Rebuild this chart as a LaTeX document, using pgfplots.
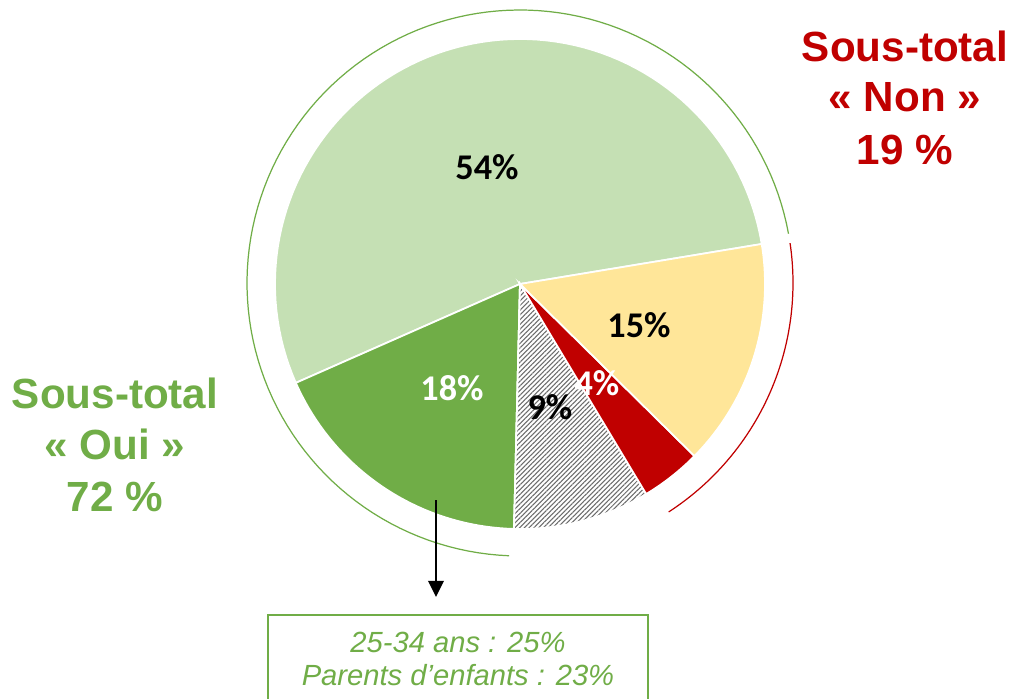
\documentclass[border=0pt]{standalone}
\usepackage{pgfplots}
\pgfplotsset{compat=1.18}
\usetikzlibrary{patterns.meta,arrows.meta}
\usepackage{fontspec}
\setmainfont{Liberation Sans}
\newfontfamily\calib{Carlito}
\definecolor{lgreen}{HTML}{C5E0B4}
\definecolor{dgreen}{HTML}{70AD47}
\definecolor{dred}{HTML}{C00000}
\definecolor{lyellow}{HTML}{FFE699}
% shares (percent), counter-clockwise from the start angle
\def\vA{54}\def\vB{18}\def\vC{9}\def\vD{4}\def\vE{15}
\def\cx{520}\def\cy{414}\def\R{245}\def\Ro{273}
\pgfmathsetmacro\aA{9.4}
\pgfmathsetmacro\aB{\aA+3.6*\vA}
\pgfmathsetmacro\aC{\aB+3.6*\vB}
\pgfmathsetmacro\aD{\aC+3.6*\vC}
\pgfmathsetmacro\aE{\aD+3.6*\vD}
\pgfmathsetmacro\aF{\aE+3.6*\vE}
\begin{document}
\begin{tikzpicture}
\begin{axis}[width=101.3mm,height=69.8mm,scale only axis,hide axis,
  xmin=0,xmax=1013,ymin=0,ymax=698,clip=true]
\addplot[draw=none,forget plot] coordinates {(0,0) (1013,698)};
% slices
\addplot[fill=lgreen,draw=white,line width=0.5pt,domain=\aA:\aB,samples=90]
  ({\cx+\R*cos(x)},{\cy+\R*sin(x)}) -- (\cx,\cy) -- cycle;
\addplot[fill=dgreen,draw=white,line width=0.5pt,domain=\aB:\aC,samples=40]
  ({\cx+\R*cos(x)},{\cy+\R*sin(x)}) -- (\cx,\cy) -- cycle;
\addplot[preaction={fill=white},pattern={Lines[angle=45,distance=0.95pt,line width=0.3pt]},pattern color=black!58,draw=white,line width=0.5pt,domain=\aC:\aD,samples=30]
  ({\cx+\R*cos(x)},{\cy+\R*sin(x)}) -- (\cx,\cy) -- cycle;
\addplot[fill=dred,draw=white,line width=0.5pt,domain=\aD:\aE,samples=20]
  ({\cx+\R*cos(x)},{\cy+\R*sin(x)}) -- (\cx,\cy) -- cycle;
\addplot[fill=lyellow,draw=white,line width=0.5pt,domain=\aE:\aF,samples=40]
  ({\cx+\R*cos(x)},{\cy+\R*sin(x)}) -- (\cx,\cy) -- cycle;
% subtotal arcs
\addplot[dgreen,line width=0.35pt,domain=10.4:267.7,samples=120]
  ({\cx+\Ro*cos(x)},{\cy+1+\Ro*sin(x)});
\addplot[dred,line width=0.35pt,domain=303:368.4,samples=60]
  ({\cx+\Ro*cos(x)},{\cy+1+\Ro*sin(x)});
% labels in slices
\node[font=\calib\bfseries\fontsize{10.3}{12}\selectfont] at (487,531) {54\%};
\node[font=\calib\bfseries\fontsize{10.3}{12}\selectfont,text=white] at (452,310) {18\%};
\node[font=\calib\bfseries\fontsize{10.3}{12}\selectfont] at (550,291) {9\%};
\node[font=\calib\bfseries\fontsize{10.3}{12}\selectfont,text=white] at (597,315) {4\%};
\node[font=\calib\bfseries\fontsize{10.3}{12}\selectfont] at (639,373) {15\%};
% subtotals
\node[font=\bfseries\fontsize{12}{14}\selectfont,text=dred,anchor=base] at (905,636) {Sous-total};
\node[font=\bfseries\fontsize{12}{14}\selectfont,text=dred,anchor=base] at (905,586) {« Non »};
\node[font=\bfseries\fontsize{12}{14}\selectfont,text=dred,anchor=base] at (905,533) {19 \%};
\node[font=\bfseries\fontsize{12}{14}\selectfont,text=dgreen,anchor=base] at (115,290) {Sous-total};
\node[font=\bfseries\fontsize{12}{14}\selectfont,text=dgreen,anchor=base] at (115,239) {« Oui »};
\node[font=\bfseries\fontsize{12}{14}\selectfont,text=dgreen,anchor=base] at (115,187) {72 \%};
% arrow and box
\addplot[black,line width=0.6pt,-{Triangle[length=4.6pt,width=4.4pt]}] coordinates {(436,198) (436,101)};
\addplot[dgreen,line width=0.6pt] coordinates {(268,-10) (268,83) (648,83) (648,-10)};
\node[font=\itshape\fontsize{8.3}{9.7}\selectfont,text=dgreen,anchor=base] at (458,46) {25-34 ans : 25\%};
\node[font=\itshape\fontsize{8.3}{9.7}\selectfont,text=dgreen,anchor=base] at (458,13) {Parents d’enfants : 23\%};
\end{axis}
\end{tikzpicture}
\end{document}
